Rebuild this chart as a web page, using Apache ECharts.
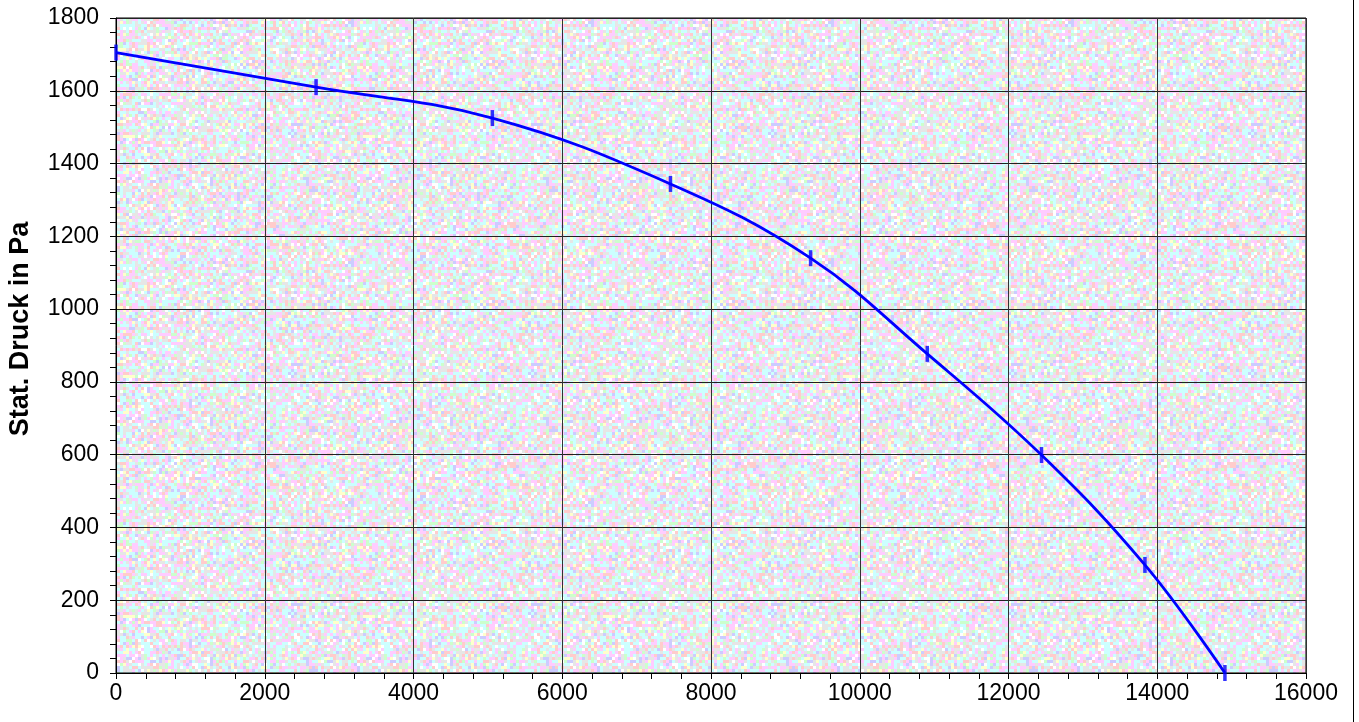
<!DOCTYPE html>
<html>
<head>
<meta charset="utf-8">
<script src="https://cdn.jsdelivr.net/npm/echarts@6/dist/echarts.min.js"></script>
<style>
html,body{margin:0;padding:0;background:#fff;}
#c{width:1359px;height:722px;}
</style>
</head>
<body>
<div id="c"></div>
<script>
// Data
const volumeFlow = [0, 2690, 5060, 7455, 9339, 10908, 12444, 13834, 14910];
const staticPressure = [1705, 1610, 1525, 1344, 1140, 877, 599, 297, 0];
const xTicks = [0, 2000, 4000, 6000, 8000, 10000, 12000, 14000, 16000];
const yTicks = [0, 200, 400, 600, 800, 1000, 1200, 1400, 1600, 1800];
const yTitle = 'Stat. Druck in Pa';

// Decorative background texture (seeded, deterministic)
const pal = ['#ccffff','#ccffff','#ccffff','#ffcccc','#ffcccc','#ffccff','#ffccff','#ccffcc','#ccccff','#e6e6e6','#e6e6e6','#ffffff','#ccffff','#e6e6e6','#ffffcc','#ffccff'];
const cell = 3, n = 80;
const cv = document.createElement('canvas');
cv.width = cell*n; cv.height = cell*n;
const cx = cv.getContext('2d');
let seed = 123456789;
function nextTex(){ seed = (seed + 0x6D2B79F5) | 0; let t = seed; t = Math.imul(t ^ (t >>> 15), t | 1); t ^= t + Math.imul(t ^ (t >>> 7), t | 61); return ((t ^ (t >>> 14)) >>> 0); }
for (let j=0;j<n;j++) for (let i=0;i<n;i++){ cx.fillStyle = pal[nextTex()%pal.length]; cx.fillRect(i*cell,j*cell,cell,cell); }

const pts = volumeFlow.map((x,i)=>[x, staticPressure[i]]);
const chart = echarts.init(document.getElementById('c'));
chart.setOption({
  animation:false,
  backgroundColor:'#ffffff',
  grid:{left:116,right:53,top:18,bottom:49,show:true,borderColor:'#000',borderWidth:1,
        backgroundColor:{image:cv,repeat:'repeat'}},
  xAxis:{type:'value',min:xTicks[0],max:xTicks[xTicks.length-1],interval:2000,
    axisLine:{show:true,onZero:false,lineStyle:{color:'#000',width:1}},
    axisTick:{show:true,length:6,lineStyle:{color:'#000'}},
    minorTick:{show:true,splitNumber:5,length:6,lineStyle:{color:'#000'}},
    splitLine:{show:true,lineStyle:{color:'#333',width:1}},
    axisLabel:{color:'#000',fontFamily:'Liberation Sans',fontSize:23,margin:9,formatter:v=>String(v)}},
  yAxis:{type:'value',min:yTicks[0],max:yTicks[yTicks.length-1],interval:200,
    axisLine:{show:true,lineStyle:{color:'#000',width:1}},
    axisTick:{show:true,length:6,lineStyle:{color:'#000'}},
    minorTick:{show:true,splitNumber:5,length:6,lineStyle:{color:'#000'}},
    splitLine:{show:true,lineStyle:{color:'#222',width:1}},
    axisLabel:{color:'#000',fontFamily:'Liberation Sans',fontSize:23,margin:17,formatter:v=>String(v)}},
  graphic:[
    {type:'line',shape:{x1:1353.5,y1:0,x2:1353.5,y2:722},style:{stroke:'#000',lineWidth:1}},
    {type:'text',x:21,y:329,rotation:Math.PI/2,
     style:{text:yTitle,fill:'#000',font:'bold 27px "Liberation Sans"',align:'center',verticalAlign:'middle'}}
  ],
  series:[
    {type:'line',data:pts,smooth:0.4,symbol:'none',lineStyle:{color:'#0000ff',width:2.8},z:3},
    {type:'scatter',data:pts,symbol:'rect',symbolSize:[3.5,16],itemStyle:{color:'#0000ff'},z:4}
  ]
});
</script>
</body>
</html>
